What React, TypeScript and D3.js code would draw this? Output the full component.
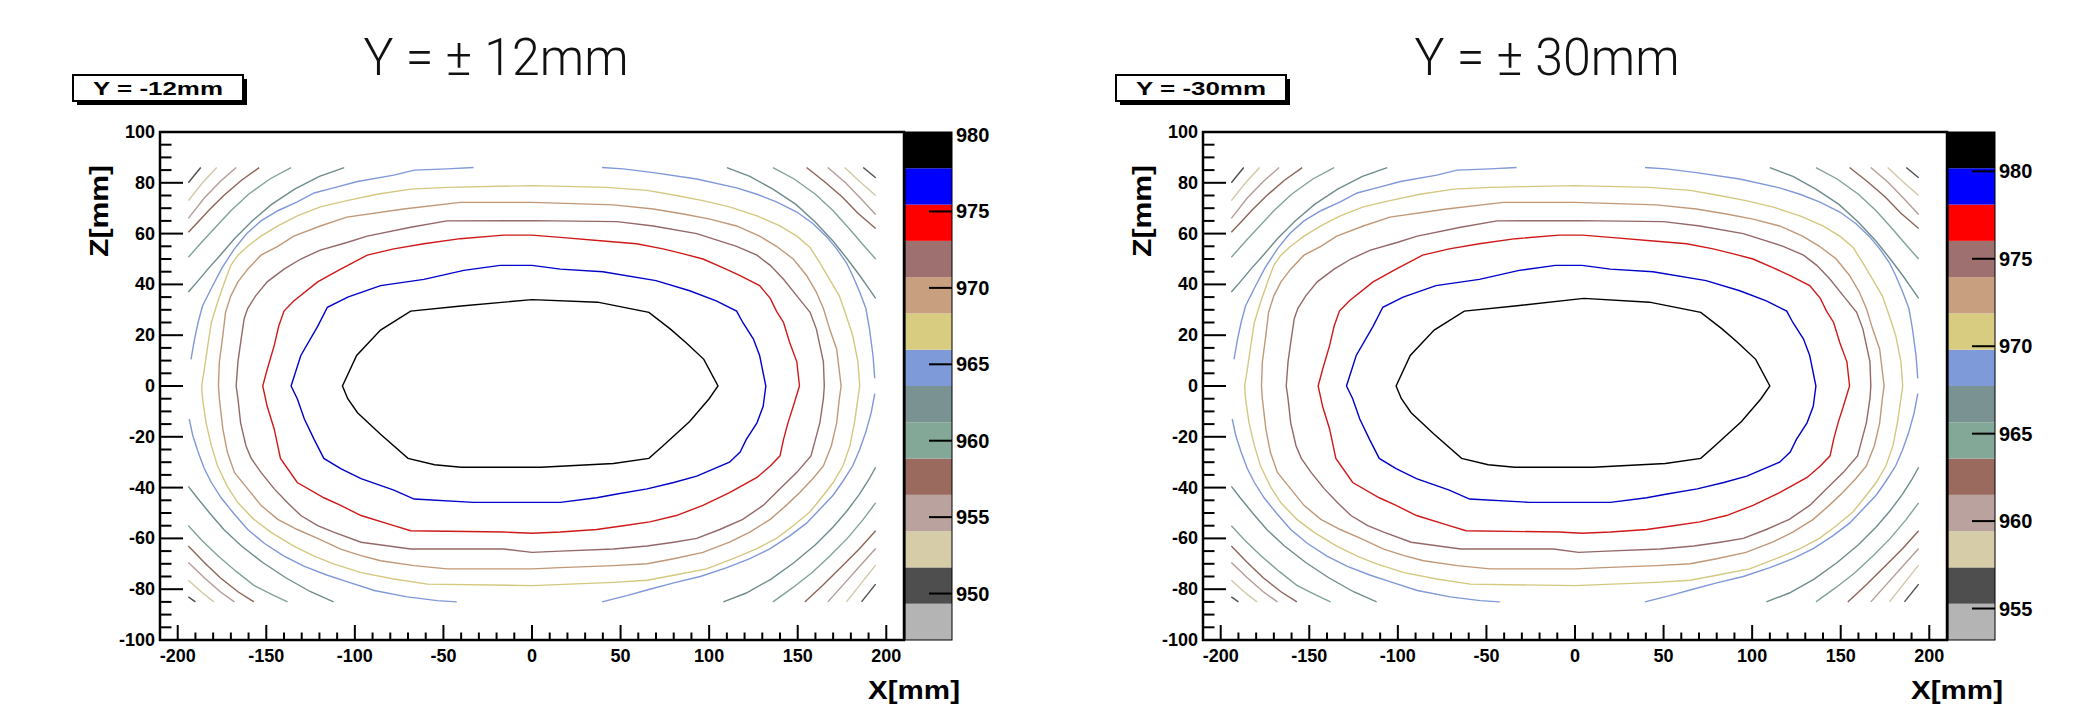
import React from 'react';
import * as d3 from 'd3';

type Pt = [number, number];

// ---------- axes / colour scale data ----------
const xTicks = [-200, -150, -100, -50, 0, 50, 100, 150, 200];
const zTicks = [-100, -80, -60, -40, -20, 0, 20, 40, 60, 80, 100];
const bandColors = ['#b4b4b4', '#4e4e4e', '#d6cca8', '#baa29e', '#9a6a5e', '#84a898', '#7a9292',
  '#7f9ad8', '#d8cc80', '#c8a080', '#9e7070', '#ff0000', '#0000ff', '#000000'];
const lineColors = ['#000000', '#0000c8', '#d01818', '#946868', '#c09878', '#d4c880', '#8098d8',
  '#6e8c8c', '#80a494', '#8e6458', '#b49c98', '#d2c8a4', '#4e4e4e'];
const leftZRange = [946.96, 980.2];
const rightZRange = [953.2, 982.25];
const leftColorTicks = [950, 955, 960, 965, 970, 975, 980];
const rightColorTicks = [955, 960, 965, 970, 975, 980];
const titles = ['Y = \u00b1 12mm', 'Y = \u00b1 30mm'];
const legends = ['Y = -12mm', 'Y = -30mm'];

// ---------- contour lines, left panel (x, z in mm) ----------
const leftL1: Pt[][] = [[[0,34],[37,33],[66,29],[78,22.5],[87,17],[97,10.5],[105,0],[100,-5],[89,-14],[74,-23.5],[66,-28.5],[46,-30.5],[5,-32],[-40,-32],[-55,-31],[-70,-28.5],[-85.5,-19],[-98.5,-10.5],[-104,-5],[-107,0],[-99,12],[-85.5,22],[-68.5,29.5],[-40,31.5],[0,34]]];
const leftL2: Pt[][] = [[[0,47.5],[16,46],[40,45],[70,41.5],[89,37.5],[104,33.5],[115.5,29.5],[119,25],[125,18.5],[128.5,12],[132,0],[130.5,-8],[127,-14.5],[121,-21],[117.5,-26],[111.5,-30],[93,-35.5],[80,-38],[65,-40.5],[48,-42.5],[36.5,-44],[16,-45.8],[0,-45.8],[-33,-45.8],[-66.5,-44.5],[-78,-41],[-96.5,-36.5],[-108,-32.5],[-117.5,-28.5],[-123,-21],[-128.5,-13],[-132.5,-5],[-136,0],[-130.5,12],[-121,23.5],[-115.5,31],[-104,35],[-85.5,39.5],[-61,42],[-38.5,45.5],[-18,47.5],[0,47.5]]];
const leftL3: Pt[][] = [[[0,59.4],[16,58.5],[42,57],[59,56],[74,54],[85.5,52],[96.5,50],[108,46.5],[117.5,43.5],[128.5,39.5],[134.5,34.5],[138,29.5],[142,25],[145.5,17],[149.5,9.5],[151,0],[147.5,-8],[144.5,-14.5],[142,-21],[140,-27.5],[134.5,-31.5],[127,-36],[111.5,-42],[96.5,-47],[81.5,-51],[66.5,-53.5],[51.5,-55],[36.5,-56.5],[16,-57.5],[0,-58],[-16,-57.5],[-68.5,-57],[-78,-55],[-96.5,-51],[-108,-47],[-117.5,-44],[-132.5,-38],[-142,-28.5],[-145.5,-17],[-149.5,-8],[-152,0],[-149.5,6.5],[-145.5,16],[-143,23.5],[-140,29.5],[-134.5,33.5],[-121,41],[-108,46],[-93,51.5],[-78,54],[-61,56],[-40.5,58],[-16,59.4],[0,59.4]]];
const leftL4: Pt[][] = [[[0,65.1],[48,64.7],[68.5,63],[93,60],[115.5,55],[127,51.5],[134.5,47.5],[142,42],[149.5,35.5],[157,29],[160.5,22.5],[164.5,9.5],[165,0],[164.5,-5],[162.5,-14.5],[157.5,-27.5],[149.5,-34],[140,-40.5],[130.5,-47],[119,-52.5],[106,-56.5],[93,-60],[80,-61.5],[65,-63],[46,-64.2],[16,-65],[0,-65.5],[-16,-64.2],[-68.5,-64.2],[-96.5,-61.5],[-112,-57.5],[-121,-55],[-130.5,-51],[-138,-46],[-145.5,-40.5],[-153,-34],[-158.5,-28.5],[-161.5,-23.5],[-164.5,-14.5],[-166,-5],[-167,0],[-166,9.5],[-164.5,17],[-162.5,26.5],[-160.5,30.5],[-156,35.5],[-149.5,41],[-140,46],[-130.5,50],[-119.5,53.5],[-104.5,56.5],[-93,59],[-68.5,62.5],[-48,65],[0,65.1]]];
const leftL5: Pt[][] = [[[0,72.3],[46,71.3],[68.5,69.7],[85.5,67.7],[100.5,65.7],[115.5,63],[128.5,59],[138,55],[147.5,50],[155,43.5],[160.5,37],[164.5,30.5],[168,22.5],[172,14.5],[174.5,0],[173.5,-5],[172,-14.5],[169,-23.5],[164.5,-31.5],[158.5,-36.5],[151,-42],[143.5,-47],[134.5,-52.5],[123,-57.5],[111.5,-61.5],[96.5,-65.5],[80,-68],[65,-70],[46,-70.7],[16,-71.5],[0,-72],[-48,-72],[-66.5,-70.7],[-85.5,-68.8],[-96.5,-66.8],[-108,-64.2],[-121,-60],[-132.5,-56.5],[-143.5,-52.5],[-153,-47],[-160.5,-40.5],[-168,-34],[-172,-26],[-174.5,-17],[-176.5,-5],[-177,0],[-176.5,9.5],[-174.5,20],[-173,29],[-170,35.5],[-166,41],[-160.5,46],[-153,51.5],[-143.5,55],[-134.5,59],[-119.5,63],[-104.5,66.5],[-72.5,69.7],[-40.5,72.3],[0,72.3]]];
const leftL6: Pt[][] = [[[0,78.9],[42,78.2],[65,77],[81.5,75],[96.5,73],[111.5,70.5],[127,67],[140,63],[149.5,59],[157,54.5],[162.5,48.5],[168,42],[173.5,35.5],[177.5,27.5],[181,20],[184,9.5],[185,0],[184,-5],[182,-14.5],[179.5,-23.5],[175.5,-31.5],[170,-38],[164.5,-43],[157,-49.5],[147.5,-55],[138,-60],[127,-64],[113.5,-68],[98.5,-72],[80,-74.5],[65,-76.5],[46,-77.3],[0,-78.6],[-59,-78],[-78,-76],[-96.5,-73.5],[-112,-70],[-123,-67],[-134.5,-63],[-147.5,-57.5],[-157,-52.5],[-166,-46],[-172,-39.5],[-177.5,-31.5],[-181,-23.5],[-184,-14.5],[-186,-5],[-186.5,0],[-185,6.5],[-183,16],[-181,25],[-177.5,33],[-173.5,41],[-170,47.5],[-166,51.5],[-160.5,55],[-153,59],[-143.5,63],[-132.5,67],[-119.5,70.5],[-104.5,73],[-87.5,75.5],[-68.5,77.5],[-48,78.2],[0,78.9]]];
const leftL7: Pt[][] = [
  [[-33,86],[-48,85.5],[-66.5,85],[-78,83],[-98.5,80.5],[-112,78],[-123,76],[-132.5,72.5],[-143.5,69],[-153,65],[-161,60],[-168,54],[-175,46.5],[-181,38.5],[-186,31.5],[-188.5,25],[-190.5,18.5],[-192.5,10.5]],
  [[-193.5,-13],[-191.5,-19.5],[-188.5,-26],[-185,-32.5],[-181,-38],[-175.5,-44],[-168,-50.5],[-160.5,-56.5],[-151,-62],[-140,-67],[-128.5,-71],[-115.5,-74.5],[-104.5,-77],[-89,-80.5],[-70.5,-83],[-53.5,-84.5],[-42.5,-85]],
  [[39.5,86],[51.5,85.5],[68.5,84],[93,81.5],[115.5,78],[127,75.5],[138,72.5],[149.5,68.5],[158.5,64],[166,59],[172,54],[177.5,48.5],[181,43.5],[185,37],[188.5,30.5],[190.5,22.5],[192.5,12],[193.5,3]],
  [[193.5,-3],[191.5,-10.5],[188.5,-18],[185,-25],[181,-31.5],[175.5,-37.5],[170,-43],[162.5,-48.5],[155,-54],[145.5,-59],[134.5,-64],[123,-68],[110,-71.5],[95,-75],[80,-77.5],[66.5,-80],[53.5,-82.5],[39.5,-85]]];
const leftL8: Pt[][] = [
  [[-106,86],[-120,82.5],[-134,77.5],[-147,71.5],[-158,65],[-168,58],[-176,51.5],[-183,46],[-189,41],[-194,37]],
  [[-194,-39.5],[-189,-44],[-182,-50],[-174,-56.5],[-164,-63],[-152,-69.5],[-139,-75.5],[-125,-81],[-112,-85]],
  [[110,86],[123,82.5],[136,77.5],[149,71.5],[160,64.5],[170,57],[178,50],[185,43.5],[190,38.5],[194,34.5]],
  [[194,-32],[190,-37],[185,-42.5],[178,-49],[170,-55.5],[160,-62.5],[148,-69.5],[135,-76],[121,-81.5],[108,-85]]];
const leftL9: Pt[][] = [
  [[-136,86],[-148,81.5],[-160,75.5],[-170,69],[-178,63],[-186,57],[-194,50.7]],
  [[-194,-55],[-186,-61],[-177,-67],[-167,-73],[-157,-78.5],[-147,-82],[-138,-85]],
  [[136,86],[148,81.5],[160,75.5],[170,69],[179,62],[187,55.5],[194,50]],
  [[194,-46],[187,-52.5],[178,-60],[168,-67],[158,-73.5],[147,-79.5],[136,-85]]];
const leftL10: Pt[][] = [
  [[-154,86],[-164,81],[-174,75],[-182,69.5],[-188,65],[-194,60.5]],
  [[-194,-63],[-185,-69.5],[-176,-75.5],[-166,-81],[-157,-85]],
  [[155,86],[165,80.5],[175,74.5],[184,68],[194,62]],
  [[194,-57],[185,-64],[175,-71],[164,-78.5],[154,-85]]];
const leftL11: Pt[][] = [
  [[-167,86],[-176,80.5],[-185,74],[-194,66]],
  [[-194,-69.5],[-185,-75.5],[-176,-81],[-168,-85]],
  [[167,86],[177,80],[186,73.5],[194,67.5]],
  [[194,-64],[185,-71],[176,-78],[167,-85]]];
const leftL12: Pt[][] = [
  [[-178,86],[-186,80],[-194,73]],
  [[-194,-76.5],[-186,-81.5],[-179.5,-85]],
  [[176.5,86],[185,80.5],[194,75]],
  [[194,-70.5],[186,-77.5],[177.5,-85]]];
const leftL13: Pt[][] = [
  [[-187,86],[-194,80]],
  [[-194,-83],[-190,-85]],
  [[187,86],[194,82]],
  [[194,-78],[186,-85]]];

// ---------- contour lines, right panel (inner loops read separately; outer ones coincide) ----------
const rightL1: Pt[][] = [[[5,34.5],[42,33],[71,29],[83,22.5],[92,17],[102,10.5],[110,0],[105,-5],[94,-14],[79,-23.5],[71,-28.5],[51,-30.5],[10,-32],[-34,-32],[-49,-31],[-64,-28.5],[-79.5,-19],[-92.5,-10.5],[-98,-5],[-101,0],[-93,12],[-79.5,22],[-62.5,29.5],[-34,31.5],[5,34.5]]];
const rightL2: Pt[][] = [[[4,47.5],[20,46],[44,45],[74,41.5],[93,37.5],[108,33.5],[119.5,29.5],[123,25],[129,18.5],[132.5,12],[136,0],[134.5,-8],[131,-14.5],[125,-21],[121.5,-26],[115.5,-30],[97,-35.5],[84,-38],[69,-40.5],[52,-42.5],[40.5,-44],[20,-45.8],[4,-45.8],[-26,-45.8],[-59.5,-44.5],[-71,-41],[-89.5,-36.5],[-101,-32.5],[-110.5,-28.5],[-116,-21],[-121.5,-13],[-125.5,-5],[-129,0],[-123.5,12],[-114,23.5],[-108.5,31],[-97,35],[-78.5,39.5],[-54,42],[-31.5,45.5],[-11,47.5],[4,47.5]]];
const rightL3: Pt[][] = [[[4,59.4],[20,58.5],[46,57],[63,56],[78,54],[89.5,52],[100.5,50],[112,46.5],[121.5,43.5],[132.5,39.5],[138.5,34.5],[142,29.5],[146,25],[149.5,17],[153.5,9.5],[155,0],[151.5,-8],[148.5,-14.5],[146,-21],[144,-27.5],[138.5,-31.5],[131,-36],[115.5,-42],[100.5,-47],[85.5,-51],[70.5,-53.5],[55.5,-55],[40.5,-56.5],[20,-57.5],[4,-58],[-9,-57.5],[-61.5,-57],[-71,-55],[-89.5,-51],[-101,-47],[-110.5,-44],[-125.5,-38],[-135,-28.5],[-138.5,-17],[-142.5,-8],[-145,0],[-142.5,6.5],[-138.5,16],[-136,23.5],[-133,29.5],[-127.5,33.5],[-114,41],[-101,46],[-86,51.5],[-71,54],[-54,56],[-33.5,58],[-9,59.4],[4,59.4]]];
const rightL4: Pt[][] = [[[2,65.1],[50,64.7],[70.5,63],[95,60],[117.5,55],[129,51.5],[136.5,47.5],[144,42],[151.5,35.5],[159,29],[162.5,22.5],[166.5,9.5],[167,0],[166.5,-5],[164.5,-14.5],[159.5,-27.5],[151.5,-34],[142,-40.5],[132.5,-47],[121,-52.5],[108,-56.5],[95,-60],[82,-61.5],[67,-63],[48,-64.2],[18,-65],[2,-65.5],[-12,-64.2],[-64.5,-64.2],[-92.5,-61.5],[-108,-57.5],[-117,-55],[-126.5,-51],[-134,-46],[-141.5,-40.5],[-149,-34],[-154.5,-28.5],[-157.5,-23.5],[-160.5,-14.5],[-162,-5],[-163,0],[-162,9.5],[-160.5,17],[-158.5,26.5],[-156.5,30.5],[-152,35.5],[-145.5,41],[-136,46],[-126.5,50],[-115.5,53.5],[-100.5,56.5],[-89,59],[-64.5,62.5],[-44,65],[2,65.1]]];

const leftContours = [leftL1, leftL2, leftL3, leftL4, leftL5, leftL6, leftL7, leftL8, leftL9, leftL10, leftL11, leftL12, leftL13];
const rightContours = [rightL1, rightL2, rightL3, rightL4, leftL5, leftL6, leftL7, leftL8, leftL9, leftL10, leftL11, leftL12, leftL13];

// ---------- layout ----------
const FX = 160, FY = 132, W = 744, H = 508, CBW = 47;
const OFFSET = 1043;
const FONT = "'Liberation Sans', Arial, sans-serif";

function Panel({ idx, contours, zRange, cTicks }: { idx: number; contours: Pt[][][]; zRange: number[]; cTicks: number[] }) {
  const ox = idx * OFFSET;
  const x = d3.scaleLinear().domain([-210, 210]).range([0, W]);
  const z = d3.scaleLinear().domain([-100, 100]).range([H, 0]);
  const c = d3.scaleLinear().domain(zRange).range([H, 0]);
  const line = d3.line<Pt>().x(d => x(d[0])).y(d => z(d[1]));
  const nb = bandColors.length;
  const step = (zRange[1] - zRange[0]) / nb;
  const xMinor = d3.range(-210, 211, 10);
  const zMinor = d3.range(-100, 101, 5);
  const titleCx = 496 + idx * 8;
  return (
    <g transform={`translate(${ox},0)`}>
      <text x={titleCx} y={75} textAnchor="middle" fontFamily="Roboto, 'Liberation Sans', sans-serif" fontWeight={300}
        fontSize={52} fill="#111" textLength={265} lengthAdjust="spacingAndGlyphs">{titles[idx]}</text>
      {/* legend box */}
      <rect x={77} y={79} width={170} height={26} fill="#000" />
      <rect x={73} y={75} width={170} height={26} fill="#fff" stroke="#000" strokeWidth={2} />
      <text x={158} y={95} textAnchor="middle" fontFamily={FONT} fontWeight="bold" fontSize={18}
        textLength={130} lengthAdjust="spacingAndGlyphs">{legends[idx]}</text>
      <g transform={`translate(${FX},${FY})`}>
        <rect x={0} y={0} width={W} height={H} fill="#fff" />
        {contours.map((paths, li) => paths.map((p, pi) => (
          <path key={`${li}-${pi}`} d={line(p) || ''} fill="none" stroke={lineColors[li]} strokeWidth={1.4} />
        )))}
        {/* colour bar */}
        {bandColors.map((col, i) => (
          <rect key={i} x={W + 1} y={c(zRange[0] + (i + 1) * step)} width={CBW}
            height={c(zRange[0] + i * step) - c(zRange[0] + (i + 1) * step)} fill={col} />
        ))}
        <rect x={W + 1} y={0} width={CBW} height={H} fill="none" stroke="#000" strokeWidth={1} />
        {cTicks.map(v => (
          <g key={v}>
            <line x1={W + 1 + CBW} x2={W + 1 + CBW - 23} y1={c(v)} y2={c(v)} stroke="#000" strokeWidth={2} />
            <text x={W + CBW + 5} y={c(v) + 7} fontFamily={FONT} fontWeight="bold" fontSize={20}>{v}</text>
          </g>
        ))}
        {/* frame + ticks */}
        {xMinor.map(v => (
          <line key={`xm${v}`} x1={x(v)} x2={x(v)} y1={H} y2={H - (v % 50 === 0 ? 15 : 7.5)} stroke="#000" strokeWidth={2} />
        ))}
        {zMinor.map(v => (
          <line key={`zm${v}`} x1={0} x2={v % 20 === 0 ? 23 : 11.5} y1={z(v)} y2={z(v)} stroke="#000" strokeWidth={2} />
        ))}
        <rect x={0} y={0} width={W} height={H} fill="none" stroke="#000" strokeWidth={2.5} />
        {xTicks.map(v => (
          <text key={`xl${v}`} x={x(v)} y={H + 22} textAnchor="middle" fontFamily={FONT} fontWeight="bold" fontSize={18}>{v}</text>
        ))}
        {zTicks.map(v => (
          <text key={`zl${v}`} x={-5} y={z(v) + 6} textAnchor="end" fontFamily={FONT} fontWeight="bold" fontSize={18}>{v}</text>
        ))}
      </g>
      <text transform={`translate(108,165) rotate(-90)`} textAnchor="end" fontFamily={FONT} fontWeight="bold"
        fontSize={25} textLength={92} lengthAdjust="spacingAndGlyphs">Z[mm]</text>
      <text x={960} y={699} textAnchor="end" fontFamily={FONT} fontWeight="bold" fontSize={26}
        textLength={92} lengthAdjust="spacingAndGlyphs">X[mm]</text>
    </g>
  );
}

export default function App() {
  return (
    <svg width={2075} height={706} style={{ position: 'absolute', left: 0, top: 0, background: '#fff' }}>
      <rect width={2075} height={706} fill="#fff" />
      <Panel idx={0} contours={leftContours} zRange={leftZRange} cTicks={leftColorTicks} />
      <Panel idx={1} contours={rightContours} zRange={rightZRange} cTicks={rightColorTicks} />
    </svg>
  );
}
